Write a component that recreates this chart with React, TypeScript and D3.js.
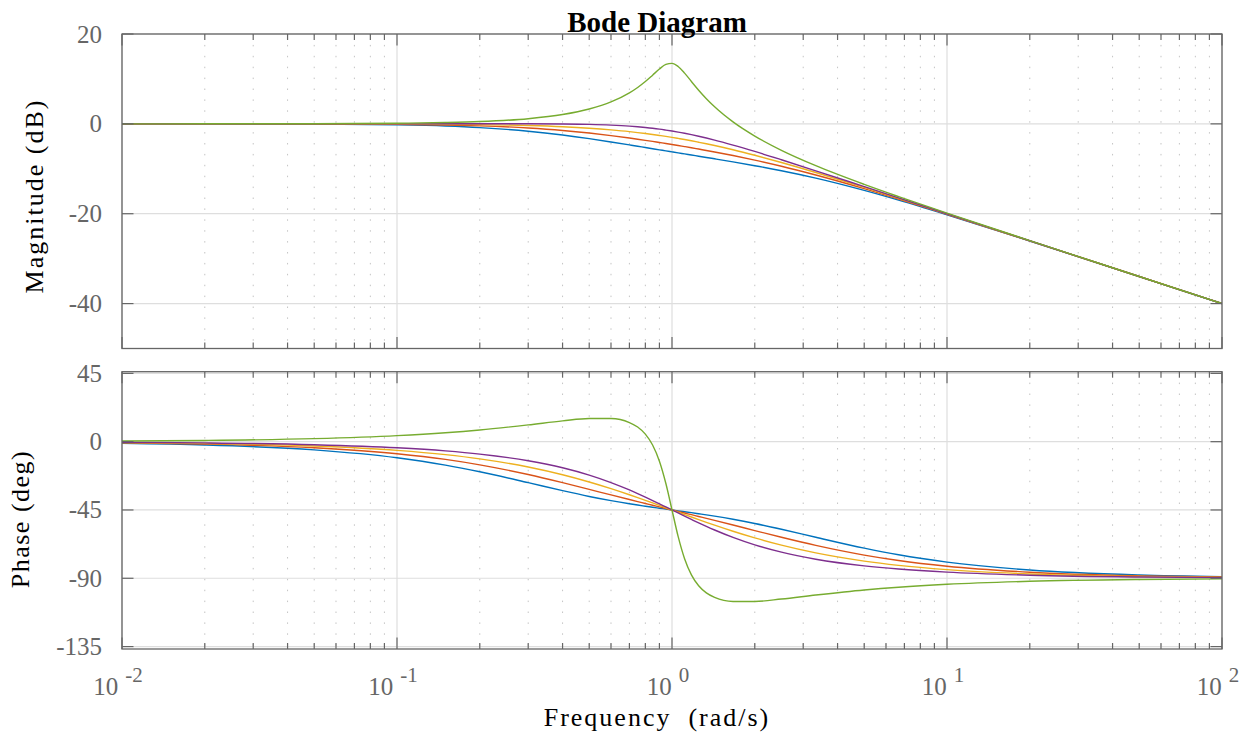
import React from "react";
import * as d3 from "d3";

// frequency grid (rad/s)
const freq = [
  0.01, 0.02, 0.05, 0.1, 0.15, 0.2, 0.3, 0.4, 0.5, 0.6, 0.7, 0.75, 0.8, 0.85, 0.9, 0.95, 1,
  1.0526, 1.1111, 1.1765, 1.25, 1.3333, 1.4286, 1.6667, 2, 2.5, 3.3333, 5, 6.6667, 10, 20, 50, 100,
];

// magnitude (dB)
const magBlue = [0, -0.01, -0.06, -0.23, -0.49, -0.83, -1.63, -2.48, -3.29, -4.03, -4.68, -4.98, -5.27, -5.53, -5.78, -6.02, -6.24, -6.46, -6.69, -6.94, -7.2, -7.48, -7.78, -8.46, -9.31, -10.44, -12.08, -14.81, -16.97, -20.23, -26.08, -33.99, -40.0];
const magRed = [0, 0, -0.03, -0.12, -0.26, -0.44, -0.92, -1.47, -2.05, -2.62, -3.16, -3.42, -3.67, -3.91, -4.15, -4.37, -4.59, -4.82, -5.06, -5.32, -5.61, -5.92, -6.26, -7.05, -8.07, -9.43, -11.38, -14.42, -16.74, -20.12, -26.05, -33.98, -40.0];
const magYellow = [0, 0, -0.01, -0.04, -0.1, -0.17, -0.37, -0.64, -0.97, -1.34, -1.73, -1.94, -2.15, -2.36, -2.58, -2.79, -3.01, -3.24, -3.49, -3.77, -4.09, -4.44, -4.83, -5.77, -6.99, -8.6, -10.83, -14.15, -16.58, -20.04, -26.03, -33.98, -40.0];
const magPurple = [0, 0, 0, 0, 0.01, 0.01, 0.01, -0.03, -0.12, -0.28, -0.51, -0.66, -0.82, -0.99, -1.18, -1.39, -1.6, -1.83, -2.1, -2.41, -2.76, -3.16, -3.61, -4.72, -6.14, -7.99, -10.45, -13.97, -16.47, -20.0, -26.02, -33.98, -40.0];
const magGreen = [0, 0.01, 0.03, 0.13, 0.29, 0.51, 1.15, 2.07, 3.3, 4.88, 6.9, 8.1, 9.43, 10.84, 12.2, 13.22, 13.47, 12.77, 11.29, 9.43, 7.49, 5.6, 3.8, 0.44, -2.72, -5.89, -9.31, -13.47, -16.19, -19.87, -25.99, -33.97, -40.0];

// phase (deg)
const phaseBlue = [-1.09, -2.18, -5.41, -10.62, -15.46, -19.83, -27.01, -32.29, -36.09, -38.85, -40.91, -41.76, -42.52, -43.22, -43.85, -44.44, -45, -45.56, -46.15, -46.78, -47.48, -48.24, -49.09, -51.15, -53.91, -57.71, -62.99, -70.17, -74.54, -79.38, -84.59, -87.82, -88.91];
const phaseRed = [-0.8, -1.6, -4.0, -7.92, -11.69, -15.26, -21.65, -27.01, -31.43, -35.08, -38.12, -39.47, -40.72, -41.89, -42.98, -44.02, -45, -45.98, -47.02, -48.11, -49.28, -50.53, -51.88, -54.92, -58.57, -62.99, -68.35, -74.74, -78.31, -82.08, -86.0, -88.4, -89.2];
const phaseYellow = [-0.57, -1.15, -2.86, -5.71, -8.53, -11.31, -16.7, -21.8, -26.57, -30.96, -34.99, -36.87, -38.66, -40.36, -41.99, -43.53, -45, -46.47, -48.01, -49.64, -51.34, -53.13, -55.01, -59.04, -63.43, -68.2, -73.3, -78.69, -81.47, -84.29, -87.14, -88.85, -89.43];
const phasePurple = [-0.4, -0.8, -2.01, -4.03, -6.09, -8.19, -12.57, -17.19, -22.02, -26.94, -31.81, -34.19, -36.51, -38.77, -40.93, -43.02, -45, -46.98, -49.07, -51.23, -53.49, -55.81, -58.19, -63.06, -67.98, -72.81, -77.43, -81.81, -83.91, -85.97, -87.99, -89.2, -89.6];
const phaseGreen = [0.4, 0.8, 2.0, 3.98, 5.9, 7.73, 11.05, 13.67, 15.26, 15.26, 12.61, 9.65, 4.97, -2.22, -12.88, -27.58, -45, -62.42, -77.12, -87.78, -94.97, -99.65, -102.61, -105.26, -105.26, -103.67, -101.05, -97.73, -95.9, -93.98, -92.0, -90.8, -90.4];

const magTicks = [20, 0, -20, -40];
const phaseTicks = [45, 0, -45, -90, -135];
const decadeExponents = ["-2", "-1", "0", "1", "2"];

const series = [
  { color: "#0072BD", mag: magBlue, phase: phaseBlue },
  { color: "#D95319", mag: magRed, phase: phaseRed },
  { color: "#EDB120", mag: magYellow, phase: phaseYellow },
  { color: "#7E2F8E", mag: magPurple, phase: phasePurple },
  { color: "#77AC30", mag: magGreen, phase: phaseGreen },
];

const W = 1251;
const H = 736;
const L = 122;
const R = 1222;
const FONT = "Liberation Serif";
const AXIS = "#666";

const x = d3.scaleLog().domain([0.01, 100]).range([L, R]);
const isDecade = (t) => Math.abs(Math.log10(t) - Math.round(Math.log10(t))) < 1e-6;
const allTicks = x.ticks();
const majorX = allTicks.filter(isDecade);
const minorX = allTicks.filter((t) => !isDecade(t));

function Panel({ id, y, top, bottom, ticks, field }) {
  const line = d3
    .line()
    .x((_, i) => x(freq[i]))
    .y((d) => y(d))
    .curve(d3.curveMonotoneX);

  return (
    <g>
      <defs>
        <clipPath id={id}>
          <rect x={L} y={top} width={R - L} height={bottom - top} />
        </clipPath>
      </defs>
      {/* grid */}
      {minorX.map((t, i) => (
        <line key={"mg" + i} x1={x(t)} x2={x(t)} y1={top} y2={bottom}
          stroke="#c4c4c4" strokeWidth={1} strokeDasharray="1.5 9.4" />
      ))}
      {majorX.map((t, i) => (
        <line key={"xg" + i} x1={x(t)} x2={x(t)} y1={top} y2={bottom} stroke="#dedede" strokeWidth={1.2} />
      ))}
      {ticks.map((t, i) => (
        <line key={"yg" + i} x1={L} x2={R} y1={y(t)} y2={y(t)} stroke="#dedede" strokeWidth={1.2} />
      ))}
      {/* curves */}
      <g clipPath={`url(#${id})`}>
        {series.map((s, i) => (
          <path key={i} d={line(s[field])} fill="none" stroke={s.color} strokeWidth={1.4} />
        ))}
      </g>
      {/* box and ticks */}
      <rect x={L} y={top} width={R - L} height={bottom - top} fill="none" stroke={AXIS} strokeWidth={1.3} />
      {allTicks.map((t, i) => {
        const len = isDecade(t) ? 11.5 : 6;
        return (
          <g key={"xt" + i} stroke={AXIS} strokeWidth={1.2}>
            <line x1={x(t)} x2={x(t)} y1={top} y2={top + len} />
            <line x1={x(t)} x2={x(t)} y1={bottom} y2={bottom - len} />
          </g>
        );
      })}
      {ticks.map((t, i) => (
        <g key={"yt" + i} stroke={AXIS} strokeWidth={1.2}>
          <line x1={L} x2={L + 11.5} y1={y(t)} y2={y(t)} />
          <line x1={R} x2={R - 11.5} y1={y(t)} y2={y(t)} />
        </g>
      ))}
      {ticks.map((t, i) => (
        <text key={"yl" + i} x={L - 20} y={y(t)} dy="0.34em" textAnchor="end"
          fontFamily={FONT} fontSize={25} fill="#666">
          {t}
        </text>
      ))}
    </g>
  );
}

export default function App() {
  const yMag = d3.scaleLinear().domain([-50, 20]).range([348.5, 34]);
  const yPhase = d3.scaleLinear().domain([-136.6, 46.1]).range([649, 371.7]);

  return (
    <svg width={W} height={H} style={{ position: "absolute", left: 0, top: 0, background: "#fff" }}>
      <rect width={W} height={H} fill="#fff" />
      <Panel id="clip-mag" y={yMag} top={34} bottom={348.5} ticks={magTicks} field="mag" />
      <Panel id="clip-phase" y={yPhase} top={371.7} bottom={649} ticks={phaseTicks} field="phase" />

      {majorX.map((t, i) => (
        <text key={i} x={x(t) - 4} y={695} textAnchor="middle" fontFamily={FONT} fontSize={25} fill="#666">
          10
          <tspan dx={7} dy={-13} fontSize={21}>{decadeExponents[i]}</tspan>
        </text>
      ))}

      <text x={657} y={31.5} textAnchor="middle" fontFamily={FONT} fontSize={29} fontWeight="bold" fill="#000">
        Bode Diagram
      </text>
      <text x={657} y={726} textAnchor="middle" fontFamily={FONT} fontSize={26} letterSpacing={2} fill="#000"
        style={{ whiteSpace: "pre" }}>
        {"Frequency  (rad/s)"}
      </text>
      <text transform={`translate(43,196) rotate(-90)`} textAnchor="middle" fontFamily={FONT} fontSize={26}
        letterSpacing={2} fill="#000">
        Magnitude (dB)
      </text>
      <text transform={`translate(29,519) rotate(-90)`} textAnchor="middle" fontFamily={FONT} fontSize={26}
        letterSpacing={1.5} fill="#000">
        Phase (deg)
      </text>
    </svg>
  );
}
